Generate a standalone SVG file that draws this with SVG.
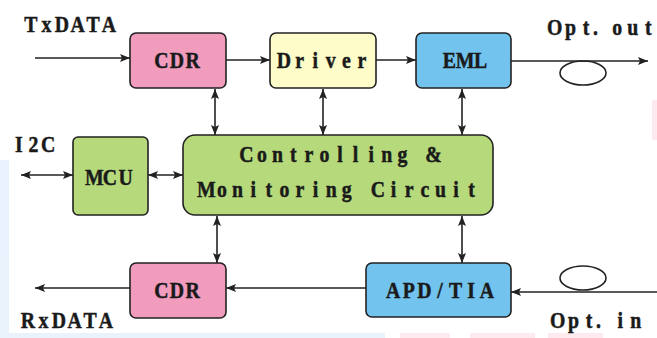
<svg xmlns="http://www.w3.org/2000/svg" width="657" height="338" viewBox="0 0 657 338">
<style>
.box{stroke:#222;stroke-width:1.6}
.t{font-family:"Liberation Serif","DejaVu Serif",serif;font-weight:bold;font-size:23px;fill:#1a1a1a;stroke:#1a1a1a;stroke-width:0.5;text-anchor:middle}
.w{stroke:#222;stroke-width:1.6;fill:none}
</style>
<defs>
<marker id="ah" viewBox="0 0 10 8" refX="10" refY="4" markerWidth="11" markerHeight="8" markerUnits="userSpaceOnUse" orient="auto-start-reverse">
<path d="M0,0 L10,4 L0,8 L2,4 Z" fill="#222"/>
</marker>
</defs>
<rect width="657" height="338" fill="#fff"/>
<g id="watermark" opacity="0.5">
<rect x="0" y="160" width="9" height="178" fill="#d6e6fb"/>
<rect x="0" y="333" width="385" height="5" fill="#d6e6fb"/>
<rect x="400" y="333" width="50" height="5" fill="#fbd6de"/>
<rect x="470" y="333" width="65" height="5" fill="#fbd6de"/>
<rect x="548" y="333" width="55" height="5" fill="#fbd6de"/>
<rect x="652" y="100" width="5" height="40" fill="#fbd6de"/>
</g>
<g id="connectors">
<line class="w" x1="35" y1="58" x2="130" y2="58" marker-end="url(#ah)"/>
<line class="w" x1="226" y1="60" x2="270" y2="60" marker-end="url(#ah)"/>
<line class="w" x1="376" y1="60" x2="416" y2="60" marker-end="url(#ah)"/>
<line class="w" x1="511" y1="61" x2="648" y2="61" marker-end="url(#ah)"/>
<line class="w" x1="215" y1="89" x2="215" y2="135" marker-start="url(#ah)" marker-end="url(#ah)"/>
<line class="w" x1="323" y1="89" x2="323" y2="135" marker-start="url(#ah)" marker-end="url(#ah)"/>
<line class="w" x1="462" y1="89" x2="462" y2="135" marker-start="url(#ah)" marker-end="url(#ah)"/>
<line class="w" x1="21" y1="175" x2="73" y2="175" marker-start="url(#ah)" marker-end="url(#ah)"/>
<line class="w" x1="148" y1="175" x2="183" y2="175" marker-start="url(#ah)" marker-end="url(#ah)"/>
<line class="w" x1="217" y1="216" x2="217" y2="263" marker-start="url(#ah)" marker-end="url(#ah)"/>
<line class="w" x1="462" y1="216" x2="462" y2="263" marker-start="url(#ah)" marker-end="url(#ah)"/>
<line class="w" x1="130" y1="288" x2="35" y2="288" marker-end="url(#ah)"/>
<line class="w" x1="366" y1="288" x2="226" y2="288" marker-end="url(#ah)"/>
<line class="w" x1="657" y1="292" x2="511" y2="292" marker-end="url(#ah)"/>
<ellipse class="w" cx="583" cy="73" rx="23" ry="12"/>
<ellipse class="w" cx="583" cy="278" rx="23" ry="12"/>
</g>
<g id="cdr-tx">
<rect class="box" x="130" y="33" width="96" height="55" rx="6" fill="#f19bbd"/>
<text class="t" transform="translate(177,68) scale(0.86,1)" x="-18.14 0 18.14" y="0">CDR</text>
</g>
<g id="driver">
<rect class="box" x="270" y="33" width="106" height="55" rx="6" fill="#fefdc9"/>
<text class="t" transform="translate(323,68) scale(0.86,1)" x="-45.35 -27.21 -9.07 9.07 27.21 45.35" y="0">Driver</text>
</g>
<g id="eml">
<rect class="box" x="416" y="33" width="95" height="55" rx="6" fill="#72c4ef"/>
<text class="t" transform="translate(465,68) scale(0.86,1)" x="-18.14 0 18.14" y="0">EML</text>
</g>
<g id="mcu">
<rect class="box" x="73" y="137" width="75" height="78" rx="5" fill="#b6da7b"/>
<text class="t" transform="translate(110,185) scale(0.86,1)" x="-18.14 0 18.14" y="0">MCU</text>
</g>
<g id="controlling">
<rect class="box" x="183" y="135" width="310" height="80" rx="12" fill="#b6da7b"/>
<text class="t" transform="translate(340,162) scale(0.86,1)" x="-108.84 -90.70 -72.56 -54.42 -36.28 -18.14 0 18.14 36.28 54.42 72.56 90.70 108.84" y="0">Controlling &amp;</text>
<text class="t" transform="translate(339,197) scale(0.86,1)" x="-154.19 -136.05 -117.91 -99.77 -81.63 -63.49 -45.35 -27.21 -9.07 9.07 27.21 45.35 63.49 81.63 99.77 117.91 136.05 154.19" y="0">Monitoring Circuit</text>
</g>
<g id="cdr-rx">
<rect class="box" x="130" y="263" width="96" height="55" rx="6" fill="#f19bbd"/>
<text class="t" transform="translate(177,298) scale(0.86,1)" x="-18.14 0 18.14" y="0">CDR</text>
</g>
<g id="apd-tia">
<rect class="box" x="366" y="263" width="145" height="54" rx="6" fill="#72c4ef"/>
<text class="t" transform="translate(440,298) scale(0.86,1)" x="-54.42 -36.28 -18.14 0 18.14 36.28 54.42" y="0">APD/TIA</text>
</g>
<g id="labels">
<text class="t" transform="translate(69.8,32) scale(0.86,1)" x="-45.35 -27.21 -9.07 9.07 27.21 45.35" y="0">TxDATA</text>
<text class="t" transform="translate(33.5,152) scale(0.86,1)" x="-17.16 0 17.16" y="0">I2C</text>
<text class="t" transform="translate(601.6,35) scale(0.86,1)" x="-54.42 -36.28 -18.14 -7 18.14 36.28 54.42" y="0">Opt.out</text>
<text class="t" transform="translate(66.8,328) scale(0.86,1)" x="-45.35 -27.21 -9.07 9.07 27.21 45.35" y="0">RxDATA</text>
<text class="t" transform="translate(596.8,328) scale(0.86,1)" x="-45.35 -27.21 -9.07 2 27.21 45.35" y="0">Opt.in</text>
</g>
</svg>
